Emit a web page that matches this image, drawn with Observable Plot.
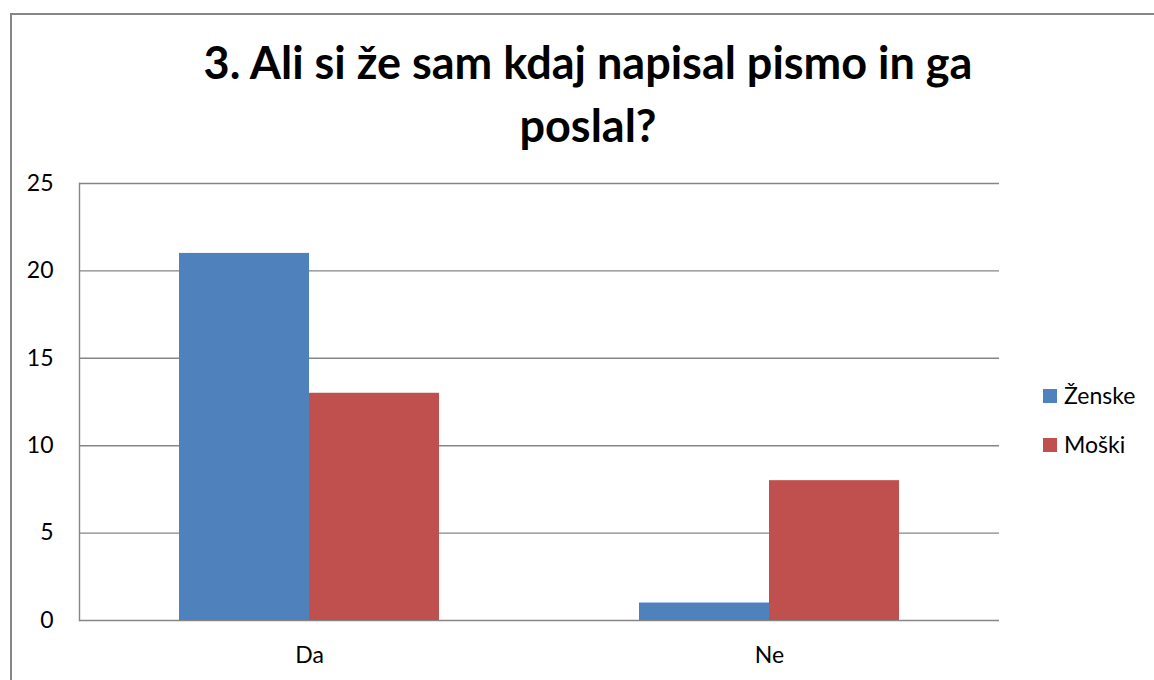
<!DOCTYPE html>
<html><head><meta charset="utf-8">
<script src="https://cdn.jsdelivr.net/npm/d3@7"></script>
<script src="https://cdn.jsdelivr.net/npm/@observablehq/plot@0.6"></script>
<style>
html,body{margin:0;padding:0;background:#fff;}
#wrap{position:relative;width:1154px;height:680px;overflow:hidden;font-family:Lato,"Open Sans",sans-serif;}
#border{position:absolute;left:10px;top:13px;width:1300px;height:900px;border:2px solid #868686;box-sizing:border-box;}
#title{position:relative;height:165px;box-sizing:border-box;padding-top:31px;text-align:center;font-weight:bold;font-size:45px;line-height:63px;color:#000;padding-left:22px;}
#chart{position:relative;height:515px;}
#legend{position:absolute;left:1043px;top:381px;}
.item{position:relative;height:49px;font-size:23px;color:#000;}
.sw{position:absolute;left:0;top:8px;width:14px;height:14px;}
.lab{position:absolute;left:21px;top:-1px;line-height:30px;white-space:nowrap;}
</style></head>
<body>
<div id="wrap">
  <div id="border"></div>
  <div id="title">3. Ali si že sam kdaj napisal pismo in ga<br>poslal?</div>
  <div id="chart"></div>
  <div id="legend"></div>
</div>
<script>
const categories = ["Da", "Ne"];
const series = ["Ženske", "Moški"];
const zenske = [21, 1];
const moski = [13, 8];
const yTicks = [0, 5, 10, 15, 20, 25];
const colors = ["#4F81BD", "#C0504D"];

const data = categories.flatMap((c, i) => [
  {category: c, series: series[0], value: zenske[i]},
  {category: c, series: series[1], value: moski[i]}
]);

const plot = Plot.plot({
  width: 1154, height: 515,
  marginTop: 18, marginBottom: 60, marginLeft: 79, marginRight: 155,
  style: {fontFamily: "Lato, 'Open Sans', sans-serif", fontSize: "23px", color: "#000", background: "transparent", overflow: "visible"},
  fx: {domain: categories, padding: 0, label: null, axis: null},
  x: {domain: series, paddingInner: 0, paddingOuter: 0.756, axis: null},
  y: {domain: [0, 25], label: null, axis: null},
  color: {domain: series, range: colors},
  marks: [
    Plot.gridY(yTicks, {stroke: "#868686", strokeOpacity: 1, strokeWidth: 1.4}),
    Plot.barY(data, {fx: "category", x: "series", y: "value", fill: "series", inset: 0}),
    Plot.frame({anchor: "left", facetAnchor: "left", stroke: "#868686", strokeWidth: 1.4}),
    Plot.axisY(yTicks, {tickSize: 0, tickPadding: 26, label: null, fill: "#000"}),
    Plot.axisFx({anchor: "bottom", tickSize: 0, tickPadding: 26, label: null, fill: "#000"})
  ]
});
document.getElementById("chart").appendChild(plot);

const legend = document.getElementById("legend");
series.forEach((s, i) => {
  const it = document.createElement("div");
  it.className = "item";
  const sw = document.createElement("span");
  sw.className = "sw";
  sw.style.background = colors[i];
  const lab = document.createElement("span");
  lab.className = "lab";
  lab.textContent = s;
  it.appendChild(sw); it.appendChild(lab);
  legend.appendChild(it);
});
</script>
</body></html>
